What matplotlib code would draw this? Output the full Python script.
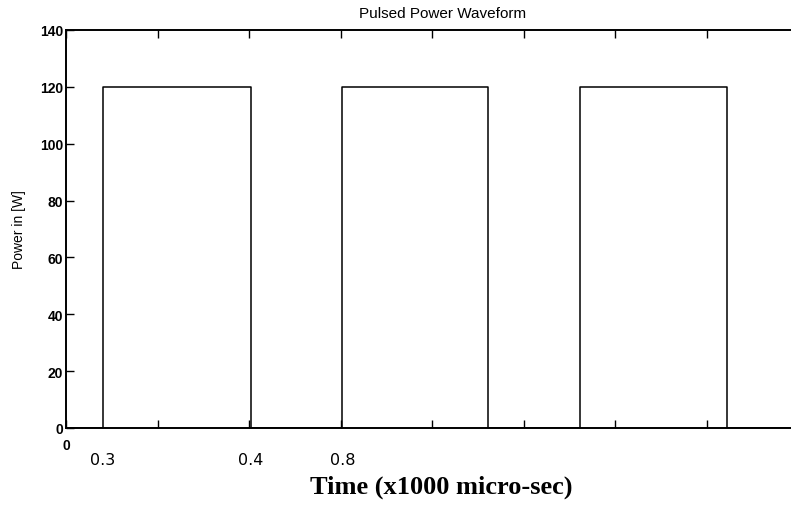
import matplotlib.pyplot as plt
from matplotlib.ticker import MultipleLocator, NullFormatter

# bordas dos pulsos (unidades do eixo) e nivel de potencia
subidas = [0.40, 3.02, 5.62]
descidas = [2.02, 4.61, 7.22]
nivel = 120
x_fim = 7.92

# rotulos escritos a mao sob as bordas
rotulos_bordas = ["0.3", "0.4", "0.8"]
pos_rotulos = [0.40, 2.02, 3.02]

# monta a forma de onda em degraus
xs = [0]
ys = [0]
for a, b in zip(subidas, descidas):
    xs += [a, a, b, b]
    ys += [0, nivel, nivel, 0]
xs.append(x_fim)
ys.append(0)

fig = plt.figure(figsize=(7.91, 5.06), dpi=100)
ax = fig.add_axes([66 / 791, 77 / 506, 1 - 66 / 791, 398 / 506])
ax.plot(xs, ys, color='black', linewidth=1.1)

ax.set_xlim(0, x_fim)
ax.set_ylim(0, 140)
ax.yaxis.set_major_locator(MultipleLocator(20))
ax.xaxis.set_major_locator(MultipleLocator(1))
ax.xaxis.set_major_formatter(NullFormatter())
ax.tick_params(direction='in', length=6, width=1, top=True, right=False)
for lab in ax.get_yticklabels():
    lab.set_fontfamily('Liberation Sans')
    lab.set_fontweight('bold')
    lab.set_fontsize(10)
ax.tick_params(axis='y', pad=2)
ax.spines['right'].set_visible(False)
for s in ['left', 'top', 'bottom']:
    ax.spines[s].set_linewidth(1.4)

fig.text(443 / 791, 1 - 14 / 506, 'Pulsed Power Waveform', ha='center', va='center',
         fontfamily='Liberation Sans', fontsize=11)
fig.text(19 / 791, 1 - 230 / 506, 'Power in [W]', ha='center', va='center', rotation=90,
         fontfamily='Liberation Sans', fontsize=10)

# "0" no canto e rotulos das bordas
ax.text(0, -0.025, '0', transform=ax.get_xaxis_transform(), ha='center', va='top',
        fontfamily='Liberation Sans', fontweight='bold', fontsize=10)
for t, p in zip(rotulos_bordas, pos_rotulos):
    ax.text(p, -0.06, t, transform=ax.get_xaxis_transform(), ha='center', va='top',
            fontfamily='DejaVu Sans', fontsize=11.5)

fig.text(441 / 791, 1 - 487 / 506, 'Time (x1000 micro-sec)', ha='center', va='center',
         fontfamily='Liberation Serif', fontweight='bold', fontsize=19)

fig.savefig('out.png', dpi=100)
